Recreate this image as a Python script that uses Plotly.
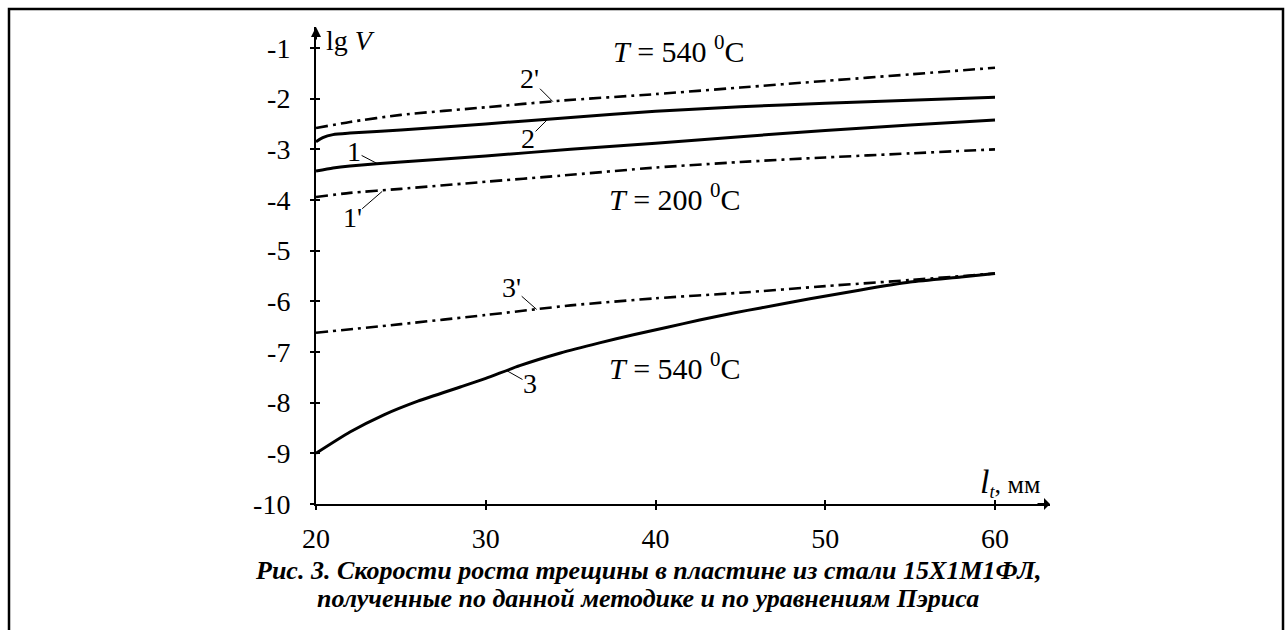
import plotly.graph_objects as go

# ---- data ----
l_2p = [20, 22, 25, 30, 34.4, 40, 45, 50, 55, 60]
v_2p = [-2.58, -2.46, -2.32, -2.17, -2.04, -1.91, -1.78, -1.65, -1.52, -1.39]

l_2 = [20, 20.4, 21, 22, 25, 30, 35, 40, 45, 50, 55, 60]
v_2 = [-2.85, -2.77, -2.71, -2.68, -2.62, -2.50, -2.37, -2.25, -2.16, -2.09, -2.03, -1.97]

l_1 = [20, 21, 22, 25, 30, 35, 40, 45, 50, 55, 60]
v_1 = [-3.43, -3.37, -3.33, -3.25, -3.13, -3.00, -2.88, -2.75, -2.63, -2.52, -2.42]

l_1p = [20, 22, 25, 30, 34.4, 40, 45, 50, 55, 60]
v_1p = [-3.94, -3.86, -3.78, -3.64, -3.52, -3.36, -3.25, -3.16, -3.08, -3.00]

l_3p = [20, 25, 30, 35, 40, 45, 50, 55, 60]
v_3p = [-6.62, -6.45, -6.27, -6.08, -5.94, -5.83, -5.70, -5.58, -5.45]

l_3 = [20, 22, 24, 26, 28.5, 30, 32, 34.4, 36.7, 38.7, 40.7, 42.6, 44.6,
       46.2, 49.1, 52, 55, 58, 60]
v_3 = [-9.00, -8.58, -8.24, -7.97, -7.69, -7.52, -7.27, -7.02, -6.82, -6.66,
       -6.51, -6.37, -6.23, -6.13, -5.95, -5.78, -5.62, -5.52, -5.45]

x_ticks = [20, 30, 40, 50, 60]
y_ticks = [-1, -2, -3, -4, -5, -6, -7, -8, -9, -10]

FONT = "Liberation Serif, Times New Roman, serif"
W, H = 1285, 630
ML, MR, MT, MB = 316, 235, 27, 126
PW, PH = W - ML - MR, H - MT - MB


def px(x):
    return (x - ML) / PW


def py(y):
    return (H - MB - y) / PH


SOLID = dict(color="black", width=3)
DASHDOT = dict(color="black", width=2.6, dash="12px,5px,3px,5px")

fig = go.Figure()
for xs, ys, st in [(l_2p, v_2p, DASHDOT), (l_2, v_2, SOLID), (l_1, v_1, SOLID),
                   (l_1p, v_1p, DASHDOT), (l_3p, v_3p, DASHDOT), (l_3, v_3, SOLID)]:
    fig.add_trace(go.Scatter(x=xs, y=ys, mode="lines", line=dict(st, shape="spline", smoothing=0.6),
                             hoverinfo="skip", showlegend=False))

# invisible trace to carry overlay axes (inside ticks)
fig.add_trace(go.Scatter(x=[20], y=[-10], xaxis="x2", yaxis="y2", mode="markers",
                         marker=dict(opacity=0), showlegend=False, hoverinfo="skip"))

xr = [20, 20 + (1050 - 316) / 16.975]
yr = [-10, -1 + (48 - 27) / 50.67]

fig.update_layout(
    width=W, height=H,
    margin=dict(l=ML, r=MR, t=MT, b=MB),
    paper_bgcolor="white", plot_bgcolor="white",
    font=dict(family=FONT, size=27, color="black"),
    xaxis=dict(range=xr, tickvals=x_ticks, ticktext=[str(v) for v in x_ticks],
               showgrid=False, zeroline=False, showline=True, linecolor="black",
               linewidth=2, ticks="outside", ticklen=4, tickwidth=1.5,
               tickcolor="black", ticklabelstandoff=4,
               tickfont=dict(family=FONT, size=28)),
    yaxis=dict(range=yr, tickvals=y_ticks, ticktext=[str(v) for v in y_ticks],
               showgrid=False, zeroline=False, showline=True, linecolor="black",
               linewidth=2, ticks="outside", ticklen=4, tickwidth=1.5,
               tickcolor="black", ticklabelstandoff=14,
               tickfont=dict(family=FONT, size=28)),
    xaxis2=dict(range=xr, overlaying="x", anchor="y2", tickvals=x_ticks,
                showticklabels=False, ticks="inside", ticklen=4, tickwidth=1.5,
                tickcolor="black", showgrid=False, zeroline=False, showline=False),
    yaxis2=dict(range=yr, overlaying="y", anchor="x2", tickvals=y_ticks,
                showticklabels=False, ticks="inside", ticklen=4, tickwidth=1.5,
                tickcolor="black", showgrid=False, zeroline=False, showline=False),
)

# outer frame
fig.add_shape(type="rect", xref="paper", yref="paper",
              x0=px(9), x1=px(1283), y0=py(660), y1=py(9),
              line=dict(color="black", width=2.5), fillcolor="rgba(0,0,0,0)")

ann = []
# axis arrows
ann.append(dict(xref="paper", yref="paper", x=0, y=1, ax=0, ay=14, text="",
                showarrow=True, arrowhead=2, arrowsize=1, arrowwidth=2, arrowcolor="black"))
ann.append(dict(xref="paper", yref="paper", x=1, y=0, ax=-14, ay=0, text="",
                showarrow=True, arrowhead=1, arrowsize=1, arrowwidth=2, arrowcolor="black"))

# axis titles
ann.append(dict(xref="paper", yref="paper", x=px(350), y=py(41), text="lg <i>V</i>",
                showarrow=False, font=dict(size=28), xanchor="center", yanchor="middle"))
ann.append(dict(xref="paper", yref="paper", x=px(1010), y=py(482),
                text="<i><span style='font-size:34px'>l</span><sub>t</sub></i>, мм",
                showarrow=False, font=dict(size=26), xanchor="center", yanchor="middle"))

# curve labels with leader lines (point on curve, offset text)
labels = [("2'", 33.96, -2.06, -23, -23),
          ("2", 33.67, -2.40, -20, 20),
          ("1", 23.6, -3.28, -23, -12),
          ("1'", 23.9, -3.83, -30, 26),
          ("3'", 33.0, -6.16, -25, -22),
          ("3", 31.25, -7.37, 23, 13)]
for t, x, y, ax, ay in labels:
    ann.append(dict(x=x, y=y, ax=ax, ay=ay, text=t, showarrow=True, arrowhead=0,
                    arrowwidth=1, arrowcolor="black", borderpad=0,
                    font=dict(size=28)))

# temperature labels
for txt, x, y in [("<i>T</i> = 540 <sup>0</sup>C", 41.4, -1.02),
                  ("<i>T</i> = 200 <sup>0</sup>C", 41.15, -3.95),
                  ("<i>T</i> = 540 <sup>0</sup>C", 41.15, -7.28)]:
    ann.append(dict(x=x, y=y, text=txt, showarrow=False, font=dict(size=30),
                    xanchor="center", yanchor="middle"))

# caption
ann.append(dict(xref="paper", yref="paper", x=px(648), y=py(570),
                text="<b><i>Рис. 3. Скорости роста трещины в пластине из стали 15Х1М1ФЛ,</i></b>",
                showarrow=False, font=dict(size=26), xanchor="center", yanchor="middle"))
ann.append(dict(xref="paper", yref="paper", x=px(648), y=py(598),
                text="<b><i>полученные по данной методике и по уравнениям Пэриса</i></b>",
                showarrow=False, font=dict(size=26), xanchor="center", yanchor="middle"))

fig.update_layout(annotations=ann)
fig.write_html("out.html")
